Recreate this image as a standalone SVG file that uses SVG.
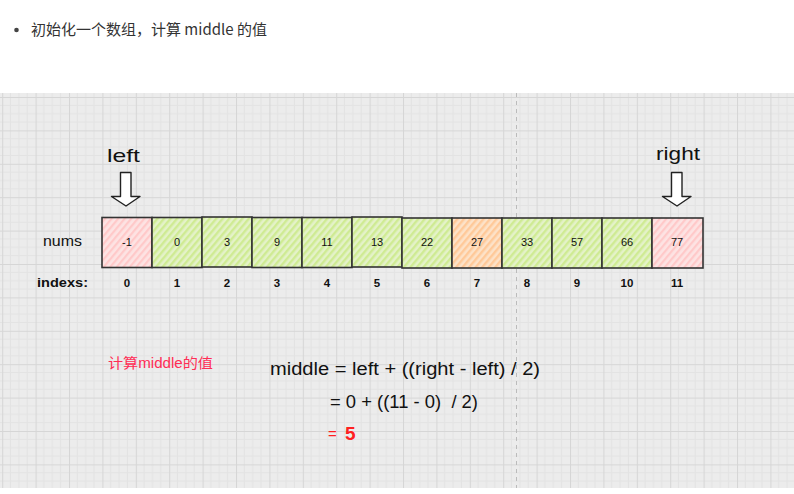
<svg xmlns="http://www.w3.org/2000/svg" width="794" height="494" viewBox="0 0 794 494">
<defs>
<style>
.hand{font-family:"Liberation Sans","Noto Sans CJK SC",sans-serif;fill:#111}
.cell{stroke:#333;stroke-width:1.6}
.val{font-family:"Liberation Sans",sans-serif;font-size:11px;fill:#111;text-anchor:middle}
.idx{font-family:"Liberation Sans",sans-serif;font-size:11.5px;font-weight:bold;fill:#111;text-anchor:middle}
.arrow{fill:#fff;stroke:#222;stroke-width:1.4;stroke-linejoin:round}
</style>
<pattern id="grid" x="2.2" y="-3.2" width="33.4" height="33.4" patternUnits="userSpaceOnUse">
<rect width="33.4" height="33.4" fill="#ececec"/>
<path d="M8.35 0V33.4M16.7 0V33.4M25.05 0V33.4M0 8.35H33.4M0 16.7H33.4M0 25.05H33.4" stroke="#e3e3e3" stroke-width="1"/>
<path d="M0.5 0V33.4M0 0.5H33.4" stroke="#d6d6d6" stroke-width="1"/>
</pattern>
<pattern id="hPink" width="5" height="5" patternUnits="userSpaceOnUse" patternTransform="rotate(40)">
<rect width="5" height="5" fill="#fde3e3"/>
<rect width="2.2" height="5" fill="#ffc9c9"/>
</pattern>
<pattern id="hGreen" width="5" height="5" patternUnits="userSpaceOnUse" patternTransform="rotate(40)">
<rect width="5" height="5" fill="#e4f2c8"/>
<rect width="2.4" height="5" fill="#cfeb93"/>
</pattern>
<pattern id="hOrange" width="5" height="5" patternUnits="userSpaceOnUse" patternTransform="rotate(40)">
<rect width="5" height="5" fill="#fde2c8"/>
<rect width="2.4" height="5" fill="#ffc999"/>
</pattern>
</defs>
<rect width="794" height="494" fill="#fff"/>
<g id="heading">
<circle cx="16.5" cy="30" r="2.3" fill="#444"/>
<text x="31" y="35" font-family="'Noto Sans CJK SC','Liberation Sans',sans-serif" font-size="15" fill="#333">初始化一个数组，计算 middle 的值</text>
</g>
<rect x="0" y="93" width="794" height="395" fill="url(#grid)"/>
<line x1="516.5" y1="93" x2="516.5" y2="488" stroke="#bbb" stroke-width="1" stroke-dasharray="4 4"/>

<g id="labels">
<text class="hand" x="107" y="162" font-size="19" textLength="33" lengthAdjust="spacingAndGlyphs">left</text>
<text class="hand" x="656" y="160" font-size="19" textLength="44" lengthAdjust="spacingAndGlyphs">right</text>
<text class="hand" x="43" y="246" font-size="14.5" textLength="39" lengthAdjust="spacingAndGlyphs">nums</text>
<text class="hand" x="37" y="287" font-size="13.5" font-weight="bold" textLength="51" lengthAdjust="spacingAndGlyphs">indexs:</text>
</g>

<g id="arrow-left"><path class="arrow" d="M120.5 172.5H131V196.5H140L126 206L111.5 196.5H120.5Z"/></g>
<g id="arrow-right"><path class="arrow" d="M671.5 172.5H682V196.5H691L677 206L662.5 196.5H671.5Z"/></g>

<g id="cell-0"><rect class="cell" x="102" y="217.5" width="50" height="50" fill="url(#hPink)"/><text class="val" x="127" y="246">-1</text><text class="idx" x="127" y="287">0</text></g>
<g id="cell-1"><rect class="cell" x="152" y="217.5" width="50" height="50" fill="url(#hGreen)"/><text class="val" x="177" y="246">0</text><text class="idx" x="177" y="287">1</text></g>
<g id="cell-2"><rect class="cell" x="202" y="217" width="50" height="50" fill="url(#hGreen)"/><text class="val" x="227" y="246">3</text><text class="idx" x="227" y="287">2</text></g>
<g id="cell-3"><rect class="cell" x="252" y="217.5" width="50" height="50" fill="url(#hGreen)"/><text class="val" x="277" y="246">9</text><text class="idx" x="277" y="287">3</text></g>
<g id="cell-4"><rect class="cell" x="302" y="217.5" width="50" height="50" fill="url(#hGreen)"/><text class="val" x="327" y="246">11</text><text class="idx" x="327" y="287">4</text></g>
<g id="cell-5"><rect class="cell" x="352" y="217" width="50" height="50" fill="url(#hGreen)"/><text class="val" x="377" y="246">13</text><text class="idx" x="377" y="287">5</text></g>
<g id="cell-6"><rect class="cell" x="402" y="218" width="50" height="50" fill="url(#hGreen)"/><text class="val" x="427" y="246">22</text><text class="idx" x="427" y="287">6</text></g>
<g id="cell-7"><rect class="cell" x="452" y="218" width="50" height="50" fill="url(#hOrange)"/><text class="val" x="477" y="246">27</text><text class="idx" x="477" y="287">7</text></g>
<g id="cell-8"><rect class="cell" x="502" y="218" width="50" height="50" fill="url(#hGreen)"/><text class="val" x="527" y="246">33</text><text class="idx" x="527" y="287">8</text></g>
<g id="cell-9"><rect class="cell" x="552" y="218" width="50" height="50" fill="url(#hGreen)"/><text class="val" x="577" y="246">57</text><text class="idx" x="577" y="287">9</text></g>
<g id="cell-10"><rect class="cell" x="602" y="218" width="50" height="50" fill="url(#hGreen)"/><text class="val" x="627" y="246">66</text><text class="idx" x="627" y="287">10</text></g>
<g id="cell-11"><rect class="cell" x="652" y="218" width="51" height="50" fill="url(#hPink)"/><text class="val" x="677" y="246">77</text><text class="idx" x="677" y="287">11</text></g>

<g id="formula">
<text x="108" y="368" font-family="'Liberation Sans','Noto Sans CJK SC',sans-serif" font-size="14" fill="#ff2d55" textLength="105" lengthAdjust="spacingAndGlyphs">计算middle的值</text>
<text class="hand" x="270" y="375" font-size="18" textLength="270" lengthAdjust="spacingAndGlyphs">middle = left + ((right - left) / 2)</text>
<text class="hand" x="330" y="408" font-size="18" textLength="148" lengthAdjust="spacingAndGlyphs" xml:space="preserve">= 0 + ((11 - 0)  / 2)</text>
<text x="328" y="439" font-family="'Liberation Sans',sans-serif" font-size="15" fill="#ff2020">=</text>
<text x="345" y="440" font-family="'Liberation Sans',sans-serif" font-size="19" font-weight="bold" fill="#ff2020">5</text>
</g>
</svg>
